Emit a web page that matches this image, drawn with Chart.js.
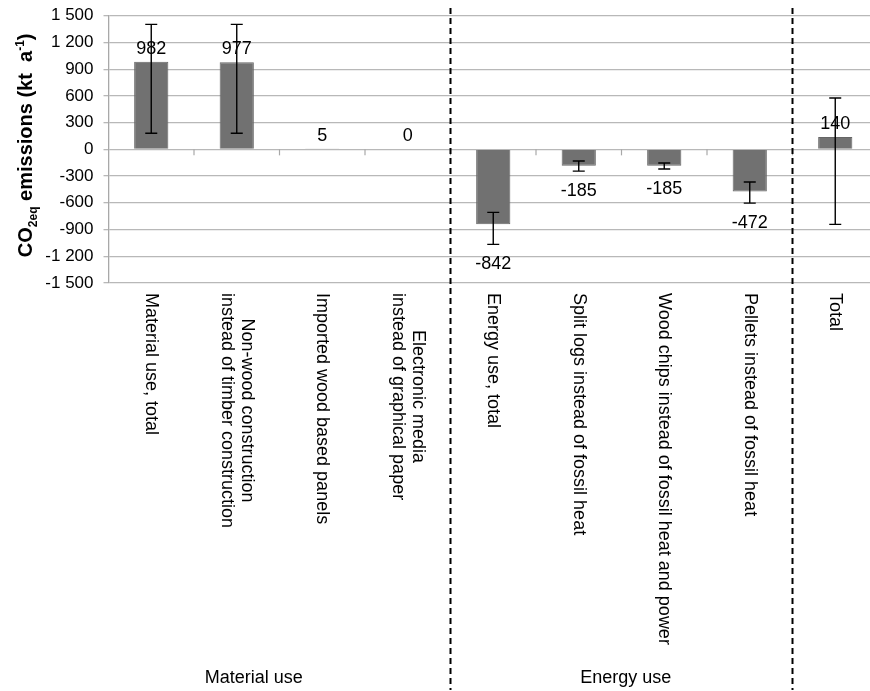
<!DOCTYPE html>
<html>
<head>
<meta charset="utf-8">
<script src="https://cdn.jsdelivr.net/npm/chart.js@4.4.1/dist/chart.umd.min.js"></script>
<style>
  html, body { margin: 0; padding: 0; background: #fff; overflow: hidden; }
  #wrap { width: 878px; height: 691px; }
</style>
</head>
<body>
<div id="wrap"><canvas id="c" width="878" height="691"></canvas></div>
<script>
// ---- data ----
const categories = [
  ['Material use, total'],
  ['Non-wood construction', 'instead of timber construction'],
  ['Imported wood based panels'],
  ['Electronic media', 'instead of graphical paper'],
  ['Energy use, total'],
  ['Split logs instead of fossil heat'],
  ['Wood chips instead of fossil heat and power'],
  ['Pellets instead of fossil heat'],
  ['Total']
];
const values = [982, 977, 5, 0, -842, -185, -185, -472, 140];
const errorHigh = [1403, 1403, null, null, -707, -131, -154, -367, 576];
const errorLow = [180, 180, null, null, -1066, -244, -221, -603, -842];
const valueLabels = ['982', '977', '5', '0', '-842', '-185', '-185', '-472', '140'];
const groupNames = ['Material use', 'Energy use'];
const yTickValues = [-1500, -1200, -900, -600, -300, 0, 300, 600, 900, 1200, 1500];
const yTickLabels = ['-1 500', '-1 200', '-900', '-600', '-300', '0', '300', '600', '900', '1 200', '1 500'];

const FONT = "'Liberation Sans', Arial, sans-serif";

const overlay = {
  id: 'overlay',
  afterDatasetsDraw(chart) {
    const ctx = chart.ctx;
    const x = chart.scales.x, y = chart.scales.y;
    const area = chart.chartArea;
    ctx.save();
    // zero axis tick marks at category boundaries
    const y0 = y.getPixelForValue(0);
    ctx.strokeStyle = '#a8a8a8';
    ctx.lineWidth = 1.2;
    for (let i = 1; i < categories.length; i++) {
      const bx = (x.getPixelForValue(i - 1) + x.getPixelForValue(i)) / 2;
      ctx.beginPath(); ctx.moveTo(bx, y0); ctx.lineTo(bx, y0 + 6); ctx.stroke();
    }
    // error bars
    ctx.strokeStyle = '#000';
    ctx.lineWidth = 1.4;
    const cap = 6;
    values.forEach((v, i) => {
      if (errorHigh[i] == null) return;
      const cx = x.getPixelForValue(i);
      const yh = y.getPixelForValue(errorHigh[i]);
      const yl = y.getPixelForValue(errorLow[i]);
      ctx.beginPath();
      ctx.moveTo(cx, yh); ctx.lineTo(cx, yl);
      ctx.moveTo(cx - cap, yh); ctx.lineTo(cx + cap, yh);
      ctx.moveTo(cx - cap, yl); ctx.lineTo(cx + cap, yl);
      ctx.stroke();
    });
    // value labels
    ctx.fillStyle = '#000';
    ctx.font = '18px ' + FONT;
    ctx.textAlign = 'center';
    ctx.textBaseline = 'middle';
    values.forEach((v, i) => {
      const cx = x.getPixelForValue(i);
      let ly;
      if (v >= 0) ly = y.getPixelForValue(v) - 13;
      else ly = y.getPixelForValue(errorLow[i] != null ? errorLow[i] : v) + 20;
      ctx.fillText(valueLabels[i], cx, ly);
    });
    // category labels (rotated clockwise)
    ctx.font = '18px ' + FONT;
    ctx.textAlign = 'left';
    ctx.textBaseline = 'middle';
    const top = area.bottom + 10;
    const lh = 20;
    categories.forEach((lines, i) => {
      const cx = x.getPixelForValue(i);
      const widths = lines.map(l => ctx.measureText(l).width);
      const maxW = Math.max(...widths);
      ctx.save();
      ctx.translate(cx, top);
      ctx.rotate(Math.PI / 2);
      lines.forEach((l, j) => {
        const off = (j - (lines.length - 1) / 2) * lh;
        ctx.fillText(l, (maxW - widths[j]) / 2, off);
      });
      ctx.restore();
    });
    // group labels
    ctx.textAlign = 'center';
    ctx.textBaseline = 'middle';
    const groupAt = [1.2, 5.55];
    groupNames.forEach((g, k) => {
      ctx.fillText(g, x.getPixelForValue(groupAt[k]), 678);
    });
    // dashed separators
    ctx.strokeStyle = '#000';
    ctx.lineWidth = 2;
    ctx.setLineDash([6, 4]);
    [[3, 4], [7, 8]].forEach(([a, b]) => {
      const sx = (x.getPixelForValue(a) + x.getPixelForValue(b)) / 2;
      ctx.beginPath(); ctx.moveTo(sx, 8); ctx.lineTo(sx, 690); ctx.stroke();
    });
    ctx.setLineDash([]);
    // y axis title with sub/superscript
    const big = 'bold 20px ' + FONT, small = 'bold 12px ' + FONT;
    const runs = [
      { t: 'CO', f: big, dy: 0 },
      { t: '2eq', f: small, dy: 5 },
      { t: ' emissions (kt  a', f: big, dy: 0 },
      { t: '-1', f: small, dy: -8 },
      { t: ')', f: big, dy: 0 }
    ];
    let total = 0;
    runs.forEach(r => { ctx.font = r.f; r.w = ctx.measureText(r.t).width; total += r.w; });
    ctx.save();
    ctx.translate(32, (area.top + area.bottom) / 2 - 4);
    ctx.rotate(-Math.PI / 2);
    ctx.textAlign = 'left';
    ctx.textBaseline = 'alphabetic';
    let px = -total / 2;
    runs.forEach(r => { ctx.font = r.f; ctx.fillText(r.t, px, r.dy); px += r.w; });
    ctx.restore();
    ctx.restore();
  }
};

new Chart(document.getElementById('c'), {
  type: 'bar',
  data: {
    labels: categories.map(c => c.join(' ')),
    datasets: [{
      data: values,
      backgroundColor: '#717171',
      borderColor: '#656565',
      borderWidth: 1,
      categoryPercentage: 1,
      barPercentage: 0.4
    }]
  },
  options: {
    responsive: false,
    animation: false,
    events: [],
    layout: { padding: { left: 0, right: 0, top: 15.7, bottom: 408 } },
    plugins: { legend: { display: false }, tooltip: { enabled: false } },
    scales: {
      x: { display: false },
      y: {
        min: -1500, max: 1500,
        afterFit(scale) { scale.width = 108.5; },
        afterBuildTicks(scale) { scale.ticks = yTickValues.map(v => ({ value: v })); },
        ticks: {
          color: '#000',
          font: { family: FONT, size: 17, lineHeight: 0.65 },
          padding: 10,
          callback: (v) => yTickLabels[yTickValues.indexOf(v)]
        },
        grid: { color: '#b8b8b8', lineWidth: 1.3, tickLength: 5 },
        border: { color: '#a8a8a8', width: 1.3 }
      }
    }
  },
  plugins: [overlay]
});
</script>
</body>
</html>
